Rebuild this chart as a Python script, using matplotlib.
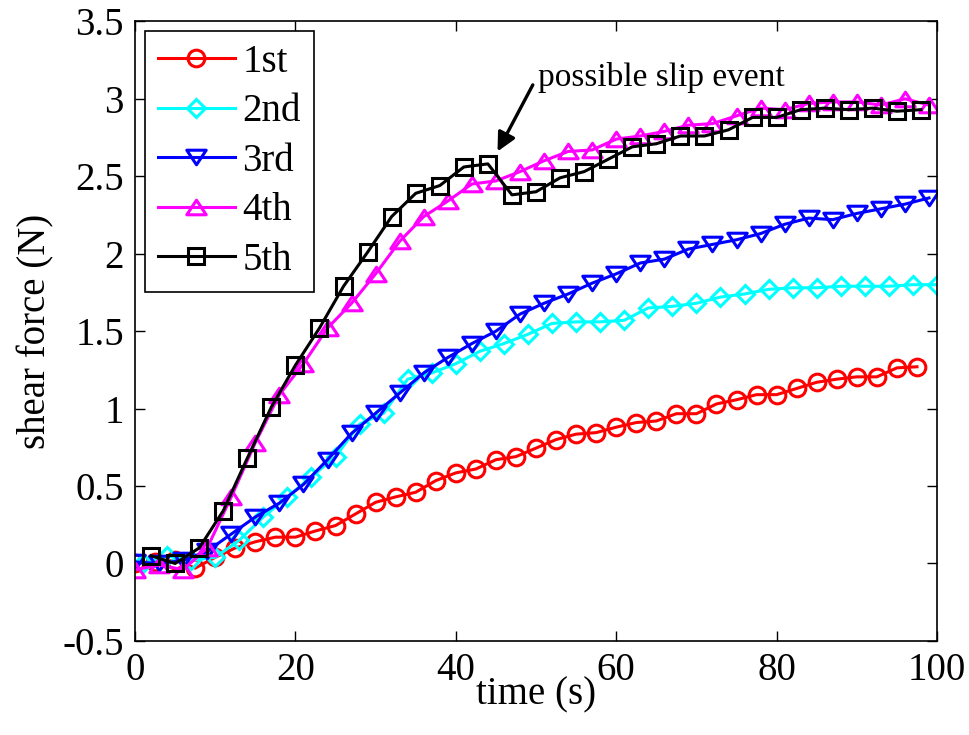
import matplotlib
matplotlib.use('Agg')
import matplotlib.pyplot as plt
from matplotlib.path import Path

# time stamps (s) for each trial
t_1st = [0, 2.5, 5, 7.5, 10, 12.5, 15, 17.5, 20, 22.5, 25, 27.5, 30, 32.5, 35, 37.5,
         40, 42.5, 45, 47.5, 50, 52.5, 55, 57.5, 60, 62.5, 65, 67.5, 70, 72.5, 75,
         77.5, 80, 82.5, 85, 87.5, 90, 92.5, 95, 97.5]
t_2nd = [1, 4, 7, 10, 13, 16, 19, 22, 25, 28, 31, 34, 37, 40, 43, 46, 49, 52, 55, 58,
         61, 64, 67, 70, 73, 76, 79, 82, 85, 88, 91, 94, 97, 100]
t_3rd = [0, 3, 6, 9, 12, 15, 18, 21, 24, 27, 30, 33, 36, 39, 42, 45, 48, 51, 54, 57,
         60, 63, 66, 69, 72, 75, 78, 81, 84, 87, 90, 93, 96, 99]
t_4th = t_3rd
t_5th = [2, 5, 8, 11, 14, 17, 20, 23, 26, 29, 32, 35, 38, 41, 44, 47, 50, 53, 56, 59,
         62, 65, 68, 71, 74, 77, 80, 83, 86, 89, 92, 95, 98]

# shear force (N)
f_1st = [0.0, 0.01, 0.02, -0.03, 0.04, 0.10, 0.14, 0.17, 0.17, 0.21, 0.245, 0.32,
         0.395, 0.43, 0.46, 0.535, 0.585, 0.61, 0.67, 0.69, 0.745, 0.80, 0.835, 0.845,
         0.88, 0.91, 0.92, 0.967, 0.967, 1.03, 1.057, 1.09, 1.09, 1.13, 1.17, 1.19,
         1.205, 1.205, 1.263, 1.27]
f_2nd = [0.0, 0.05, 0.02, 0.04, 0.15, 0.30, 0.43, 0.56, 0.69, 0.90, 0.97, 1.19, 1.23,
         1.29, 1.37, 1.42, 1.48, 1.55, 1.56, 1.56, 1.57, 1.65, 1.66, 1.68, 1.72, 1.74,
         1.77, 1.78, 1.78, 1.79, 1.79, 1.79, 1.80, 1.80]
f_3rd = [0.01, 0.0, 0.02, 0.08, 0.19, 0.30, 0.39, 0.51, 0.67, 0.84, 0.97, 1.10, 1.23,
         1.33, 1.42, 1.50, 1.61, 1.68, 1.74, 1.81, 1.87, 1.94, 1.965, 2.03, 2.06, 2.09,
         2.13, 2.19, 2.23, 2.22, 2.26, 2.29, 2.32, 2.36]
f_4th = [-0.04, -0.01, -0.04, 0.10, 0.43, 0.78, 1.09, 1.29, 1.52, 1.68, 1.87, 2.08,
         2.24, 2.34, 2.45, 2.47, 2.53, 2.60, 2.66, 2.67, 2.74, 2.76, 2.79, 2.83, 2.84,
         2.89, 2.94, 2.93, 2.97, 2.98, 2.98, 2.96, 3.0, 2.96]
f_5th = [0.05, 0.0, 0.10, 0.34, 0.68, 1.01, 1.28, 1.52, 1.79, 2.01, 2.24, 2.39, 2.44,
         2.56, 2.58, 2.38, 2.40, 2.49, 2.53, 2.61, 2.69, 2.71, 2.76, 2.76, 2.80, 2.88,
         2.88, 2.93, 2.94, 2.93, 2.94, 2.92, 2.93]

labels = ['1st', '2nd', '3rd', '4th', '5th']
xticks = [0, 20, 40, 60, 80, 100]
yticks = [-0.5, 0, 0.5, 1, 1.5, 2, 2.5, 3, 3.5]
ytick_labels = ['-0.5', '0', '0.5', '1', '1.5', '2', '2.5', '3', '3.5']

plt.rcParams['font.family'] = ['Liberation Serif', 'DejaVu Serif']

# MATLAB style triangles (wider than tall)
tri_up = Path([(0, 0.75), (-1, -0.75), (1, -0.75), (0, 0.75)], closed=True)
tri_dn = Path([(0, -0.75), (-1, 0.75), (1, 0.75), (0, -0.75)], closed=True)

fig = plt.figure(figsize=(9.7, 7.35), dpi=100)
ax = fig.add_axes([0.1392, 0.128, 0.8268, 0.8429])

lw = 2.2
mew = 2.2
ax.plot(t_1st, f_1st, color='#ff0000', marker='o', ms=12, mfc='none', mew=mew, lw=lw,
        label=labels[0])
ax.plot(t_2nd, f_2nd, color='#00ffff', marker='D', ms=9.5, mfc='none', mew=mew, lw=lw,
        label=labels[1])
ax.plot(t_3rd, f_3rd, color='#0000ff', marker=tri_dn, ms=14, mfc='none', mew=mew, lw=lw,
        label=labels[2])
ax.plot(t_4th, f_4th, color='#ff00ff', marker=tri_up, ms=14, mfc='none', mew=mew, lw=lw,
        label=labels[3])
ax.plot(t_5th, f_5th, color='#000000', marker='s', ms=12, mfc='none', mew=mew, lw=lw,
        label=labels[4])

ax.set_xlim(0, 100)
ax.set_ylim(-0.5, 3.5)
ax.set_xticks(xticks)
ax.set_xticklabels([str(v) for v in xticks])
ax.set_yticks(yticks)
ax.set_yticklabels(ytick_labels)
ax.tick_params(direction='in', length=7, width=1, top=True, right=True,
               labelsize=28, pad=8, colors='k')
for sp in ax.spines.values():
    sp.set_linewidth(1.2)
    sp.set_color('k')

ax.set_xlabel('time (s)', fontsize=28, labelpad=-9)
ax.set_ylabel('shear force (N)', fontsize=28, labelpad=6)

leg = ax.legend(loc='upper left', fontsize=28, frameon=True, fancybox=False,
                edgecolor='k', framealpha=1, handlelength=2.0, handletextpad=0.18,
                labelspacing=0.32, borderaxespad=0.25, borderpad=0.33)
leg.get_frame().set_linewidth(1.2)

ax.annotate('', xy=(45.2, 2.66), xytext=(49.6, 3.09),
            arrowprops=dict(arrowstyle='-|>', color='k', lw=2.4,
                            mutation_scale=28, shrinkA=0, shrinkB=0))
ax.text(50.2, 3.14, 'possible slip event', fontsize=24, ha='left', va='center')

fig.savefig('out.png', dpi=100)
